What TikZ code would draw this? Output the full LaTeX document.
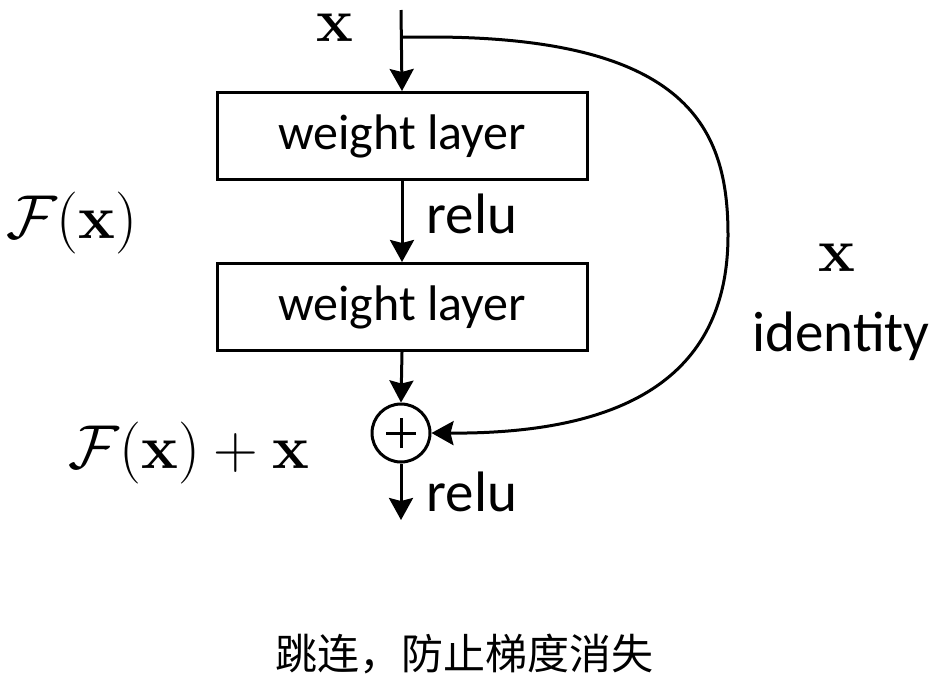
\RequirePackage{fix-cm}
\documentclass[tikz,border=0pt]{standalone}
\usepackage[no-math]{fontspec}
\setmainfont{Carlito}
\newfontfamily\cjk{Noto Sans CJK SC}
\usetikzlibrary{arrows.meta}
\tikzset{
  ln/.style={line width=3pt},
  arr/.style={ln, -{Stealth[length=22pt,width=24pt,inset=3pt]}},
  layerbox/.style={draw, ln, minimum width=370pt, minimum height=87pt, inner sep=0pt,
     font=\fontsize{50}{58}\selectfont},
  lbl/.style={inner sep=0pt, font=\fontsize{57}{64}\selectfont},
  mathlbl/.style={inner sep=0pt, font=\fontsize{62}{70}\selectfont},
  addnode/.style={draw, ln, circle, minimum size=58pt, inner sep=0pt,
     path picture={\draw[line width=3pt] ([xshift=-15pt]path picture bounding box.center) -- ([xshift=15pt]path picture bounding box.center);
                   \draw[line width=3pt] ([yshift=-15pt]path picture bounding box.center) -- ([yshift=15pt]path picture bounding box.center);}},
}
\begin{document}
\begin{tikzpicture}[x=1pt,y=-1pt]
\useasboundingbox (0,0) rectangle (936,697);
\coordinate (top) at (401,10);
\coordinate (branch) at (401,37);
\node[mathlbl] (xin) at (335,28) {$\mathbf{x}$};
\node[layerbox] (l1) at (402,136) {weight layer};
\node[layerbox] (l2) at (402,307) {weight layer};
\node[addnode] (add) at (401,433) {};
\coordinate (out) at (401,520);
\node[lbl] (r1) at (472,214) {relu};
\node[lbl] (r2) at (472,492) {relu};
\node[mathlbl] (fx) at (72,223) {$\mathcal{F}(\mathbf{x})$};
\node[mathlbl] (fxx) at (189,453) {$\mathcal{F}(\mathbf{x})+\mathbf{x}$};
\node[mathlbl] (xid) at (837,258) {$\mathbf{x}$};
\node[lbl] (idt) at (841,336) {identity};
\node[inner sep=0pt, font=\cjk\fontsize{42}{48}\selectfont] (cap) at (464,654) {跳连，防止梯度消失};
\draw[arr] (top) -- (l1.north);
\draw[arr] (l1.south) -- (l2.north);
\draw[arr] (l2.south) -- (add.north);
\draw[arr] (add.south) -- (out);
\draw[arr] (branch) -- (430,37) .. controls (690,37) and (728,130) .. (728,235)
   .. controls (728,380) and (620,434) .. (add.east);
\end{tikzpicture}
\end{document}
